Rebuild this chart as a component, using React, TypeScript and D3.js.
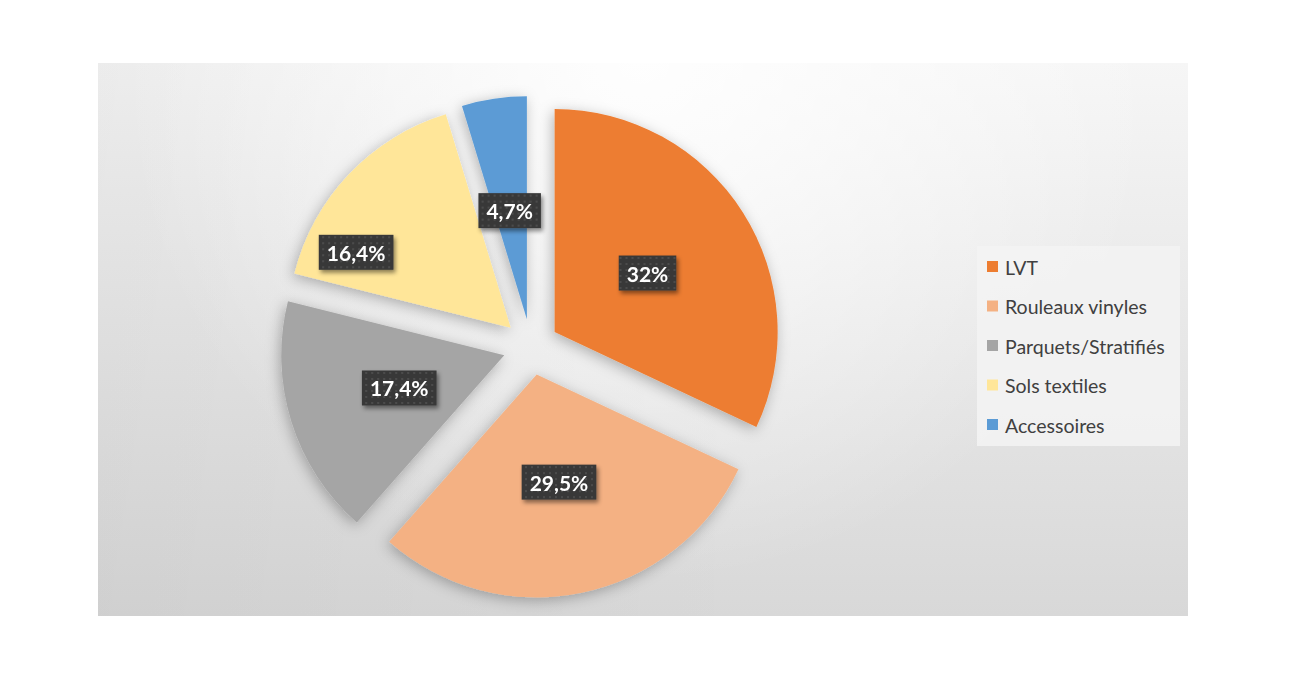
import React, { useEffect, useRef } from "react";
import * as d3 from "d3";

const categories = ["LVT", "Rouleaux vinyles", "Parquets/Stratifiés", "Sols textiles", "Accessoires"];
const values = [32, 29.5, 17.4, 16.4, 4.7];
const colors = ["#ED7D31", "#F4B183", "#A5A5A5", "#FFE699", "#5B9BD5"];

const W = 1300;
const H = 691;
const panel = { x: 98, y: 63, w: 1090, h: 553 };
const cx = 531;
const cy = 347;
const R = 223;
const explode = 28;
const labelDist = 110;
const labelOverride: Record<number, { angle: number; dist: number }> = {
  3: { angle: 296, dist: 172 },
  4: { angle: 351, dist: 110 },
};
const legend = { x: 977, y: 246, w: 203, h: 200, first: 267, step: 39.5 };

const fmt = (v: number) => d3.format(".1~f")(v).replace(".", ",") + "%";

export default function App() {
  const ref = useRef<SVGSVGElement | null>(null);

  useEffect(() => {
    const svg = d3.select(ref.current);
    svg.selectAll("*").remove();
    const defs = svg.append("defs");

    const lg = defs.append("linearGradient").attr("id", "bg").attr("x1", 0).attr("y1", 0).attr("x2", 0).attr("y2", 1);
    lg.append("stop").attr("offset", "0%").attr("stop-color", "#f6f6f6");
    lg.append("stop").attr("offset", "100%").attr("stop-color", "#d8d8d8");

    const lg2 = defs.append("linearGradient").attr("id", "bgSide").attr("x1", 0).attr("y1", 0).attr("x2", 1).attr("y2", 0);
    lg2.append("stop").attr("offset", "0%").attr("stop-color", "#000").attr("stop-opacity", 0.04);
    lg2.append("stop").attr("offset", "60%").attr("stop-color", "#000").attr("stop-opacity", 0);

    const rg = defs.append("radialGradient").attr("id", "hl")
      .attr("gradientUnits", "userSpaceOnUse").attr("cx", 640).attr("cy", 63).attr("r", 520);
    rg.append("stop").attr("offset", "0%").attr("stop-color", "#ffffff").attr("stop-opacity", 0.9);
    rg.append("stop").attr("offset", "100%").attr("stop-color", "#ffffff").attr("stop-opacity", 0);

    const sh = defs.append("filter").attr("id", "pieShadow").attr("x", "-20%").attr("y", "-20%").attr("width", "140%").attr("height", "140%");
    sh.append("feDropShadow").attr("dx", -2).attr("dy", 3).attr("stdDeviation", 7)
      .attr("flood-color", "#000").attr("flood-opacity", 0.28);

    const lsh = defs.append("filter").attr("id", "lblShadow").attr("x", "-20%").attr("y", "-30%").attr("width", "150%").attr("height", "170%");
    lsh.append("feDropShadow").attr("dx", 2).attr("dy", 3).attr("stdDeviation", 2)
      .attr("flood-color", "#000").attr("flood-opacity", 0.45);

    const pat = defs.append("pattern").attr("id", "dots").attr("patternUnits", "userSpaceOnUse")
      .attr("width", 6).attr("height", 6);
    pat.append("rect").attr("width", 6).attr("height", 6).attr("fill", "#383838");
    pat.append("circle").attr("cx", 3).attr("cy", 3).attr("r", 0.9).attr("fill", "#565656");

    // background
    svg.append("rect").attr("width", W).attr("height", H).attr("fill", "#ffffff");
    svg.append("rect").attr("x", panel.x).attr("y", panel.y).attr("width", panel.w).attr("height", panel.h).attr("fill", "url(#bg)");
    svg.append("rect").attr("x", panel.x).attr("y", panel.y).attr("width", panel.w).attr("height", panel.h).attr("fill", "url(#bgSide)");
    svg.append("rect").attr("x", panel.x).attr("y", panel.y).attr("width", panel.w).attr("height", panel.h).attr("fill", "url(#hl)");

    const data = categories.map((c, i) => ({ c, v: values[i], color: colors[i], i }));
    const pie = d3.pie<any>().sort(null).value((d: any) => d.v);
    const arcs = pie(data);
    const arc = d3.arc<any>().innerRadius(0).outerRadius(R);

    const g = svg.append("g").attr("transform", `translate(${cx},${cy})`);
    const slices = g.append("g").attr("filter", "url(#pieShadow)");
    slices.selectAll("path").data(arcs).enter().append("path")
      .attr("d", (d: any) => arc(d) as string)
      .attr("fill", (d: any) => d.data.color)
      .attr("transform", (d: any) => {
        const a = (d.startAngle + d.endAngle) / 2;
        return `translate(${explode * Math.sin(a)},${-explode * Math.cos(a)})`;
      });

    // labels
    const labels = g.append("g");
    arcs.forEach((d: any) => {
      const mid = (d.startAngle + d.endAngle) / 2;
      const ox = explode * Math.sin(mid);
      const oy = -explode * Math.cos(mid);
      const ov = labelOverride[d.data.i];
      const la = ov ? (ov.angle * Math.PI) / 180 : mid;
      const ld = ov ? ov.dist : labelDist;
      const x = ox + ld * Math.sin(la);
      const y = oy - ld * Math.cos(la);
      const lgp = labels.append("g").attr("transform", `translate(${x},${y})`);
      const rect = lgp.append("rect").attr("fill", "url(#dots)").attr("filter", "url(#lblShadow)");
      const t = lgp.append("text")
        .attr("text-anchor", "middle").attr("dominant-baseline", "central")
        .attr("font-family", "Lato, 'Open Sans', sans-serif").attr("font-weight", 700)
        .attr("font-size", 21).attr("fill", "#ffffff").text(fmt(d.data.v));
      const w = (t.node() as SVGTextElement).getComputedTextLength();
      const bw = w + 16;
      const bh = 35;
      rect.attr("x", -bw / 2).attr("y", -bh / 2).attr("width", bw).attr("height", bh);
    });

    // legend
    svg.append("rect").attr("x", legend.x).attr("y", legend.y).attr("width", legend.w).attr("height", legend.h)
      .attr("fill", "#f3f3f3").attr("opacity", 0.9);
    const li = svg.append("g").selectAll("g").data(data).enter().append("g")
      .attr("transform", (_d: any, i: number) => `translate(${legend.x + 10},${legend.first + i * legend.step})`);
    li.append("rect").attr("x", 0).attr("y", -6).attr("width", 11).attr("height", 11).attr("fill", (d: any) => d.color);
    li.append("text").attr("x", 18).attr("y", 0).attr("dominant-baseline", "central")
      .attr("font-family", "Lato, 'Open Sans', sans-serif").attr("font-size", 19.5).attr("fill", "#404040")
      .text((d: any) => d.c);
  }, []);

  return (
    <svg ref={ref} width={W} height={H} style={{ position: "absolute", left: 0, top: 0, display: "block" }} />
  );
}
